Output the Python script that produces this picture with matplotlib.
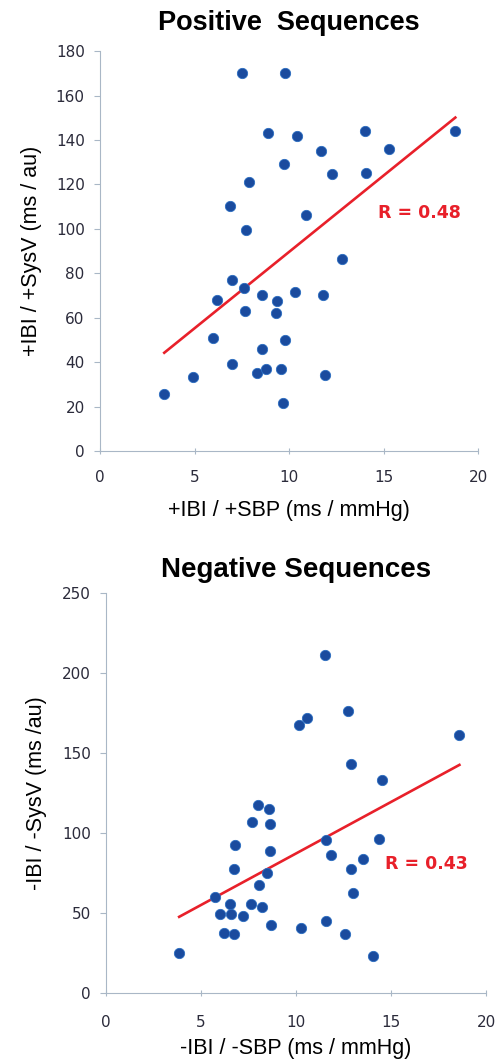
import numpy as np
import matplotlib as mpl
mpl.use("Agg")

import matplotlib.pyplot as plt

# positive sequences: +IBI/+SBP vs +IBI/+SysV
pos_x = [7.5, 9.8, 8.9, 10.4, 14.0, 18.8, 11.7, 15.3, 9.75, 12.3, 14.1, 7.9,
         6.9, 10.9, 7.7, 12.8, 7.0, 7.6, 6.2, 8.55, 9.35, 10.3, 11.8, 7.65,
         9.3, 6.0, 9.8, 8.55, 7.0, 8.3, 8.8, 9.55, 11.9, 4.9, 3.4, 9.7]
pos_y = [170, 170, 143, 142, 144, 144, 135, 136, 129, 124.5, 125, 121,
         110.5, 106, 99.5, 86.5, 77, 73.5, 68, 70, 67.5, 71.5, 70, 63,
         62, 51, 50, 46, 39, 35, 37, 37, 34, 33.5, 25.5, 21.5]
pos_r = "R = 0.48"

# negative sequences: -IBI/-SBP vs -IBI/-SysV
neg_x = [11.5, 12.75, 10.6, 10.15, 18.6, 12.9, 14.55, 8.0, 8.6, 7.7, 8.65,
         11.6, 14.35, 6.8, 8.65, 11.85, 13.5, 12.9, 6.75, 8.45, 8.05, 13.0,
         5.75, 6.5, 7.65, 8.2, 6.0, 6.6, 7.2, 8.7, 10.25, 11.6, 6.2, 6.75,
         12.6, 3.85, 14.05]
neg_y = [211.5, 176.5, 172, 168, 161.5, 143.5, 133.5, 118, 115.5, 107, 106,
         96, 96.5, 93, 89, 86.5, 84, 77.5, 77.5, 75.5, 67.5, 63,
         60, 56, 56, 54, 49.5, 49.5, 48.5, 42.5, 41, 45, 38, 37,
         37, 25.5, 23.5]
neg_r = "R = 0.43"

dot_col = '#1a4b9e'
line_col = '#e8202a'
axis_col = '#a9b7c6'

fig = plt.figure(figsize=(4.97, 10.64), dpi=100)


def panel(rect, x, y, ymax, ystep, title, xlabel, ylabel, rtext, rpos,
          tsize, tpad, xtpad, xpad, ypad):
    ax = fig.add_axes(rect)
    ax.scatter(x, y, s=55, color=dot_col, edgecolors='#2a6cc0', linewidths=0.6, zorder=3)
    k, b = np.polyfit(x, y, 1)
    xs = np.array([min(x), max(x)])
    ax.plot(xs, k * xs + b, color=line_col, lw=1.9, zorder=2)
    ax.text(rpos[0], rpos[1], rtext, color=line_col, fontsize=12.5,
            fontweight='bold', family='DejaVu Sans', va='center')
    ax.set_xlim(0, 20)
    ax.set_ylim(0, ymax)
    ax.set_xticks(np.arange(0, 21, 5))
    ax.set_yticks(np.arange(0, ymax + 1, ystep))
    for s in ['top', 'right']:
        ax.spines[s].set_visible(False)
    for s in ['left', 'bottom']:
        ax.spines[s].set_color(axis_col)
    ax.tick_params(axis='y', direction='out', length=4, color=axis_col,
                   labelsize=11, labelcolor='#2b2b3b', pad=7)
    ax.tick_params(axis='x', direction='inout', length=5, color=axis_col,
                   labelsize=11, labelcolor='#2b2b3b', pad=xtpad)
    ax.set_title(title, fontsize=tsize, fontweight='bold', family='Liberation Sans', pad=tpad)
    ax.set_xlabel(xlabel, fontsize=15.5, family='Liberation Sans', labelpad=xpad)
    ax.set_ylabel(ylabel, fontsize=15.5, family='Liberation Sans', labelpad=ypad)
    return ax


panel([0.2012, 0.5761, 0.7606, 0.3759], pos_x, pos_y, 180, 20,
      'Positive  Sequences', '+IBI / +SBP (ms / mmHg)', '+IBI / +SysV (ms / au)',
      pos_r, (14.7, 107), 19.5, 15, 11, 11, 10)
panel([0.2133, 0.0664, 0.7646, 0.3759], neg_x, neg_y, 250, 50,
      'Negative Sequences', '-IBI / -SBP (ms / mmHg)', '-IBI / -SysV (ms /au)',
      neg_r, (14.7, 81), 20, 12, 13, 6, 11)

plt.savefig("out.png")
